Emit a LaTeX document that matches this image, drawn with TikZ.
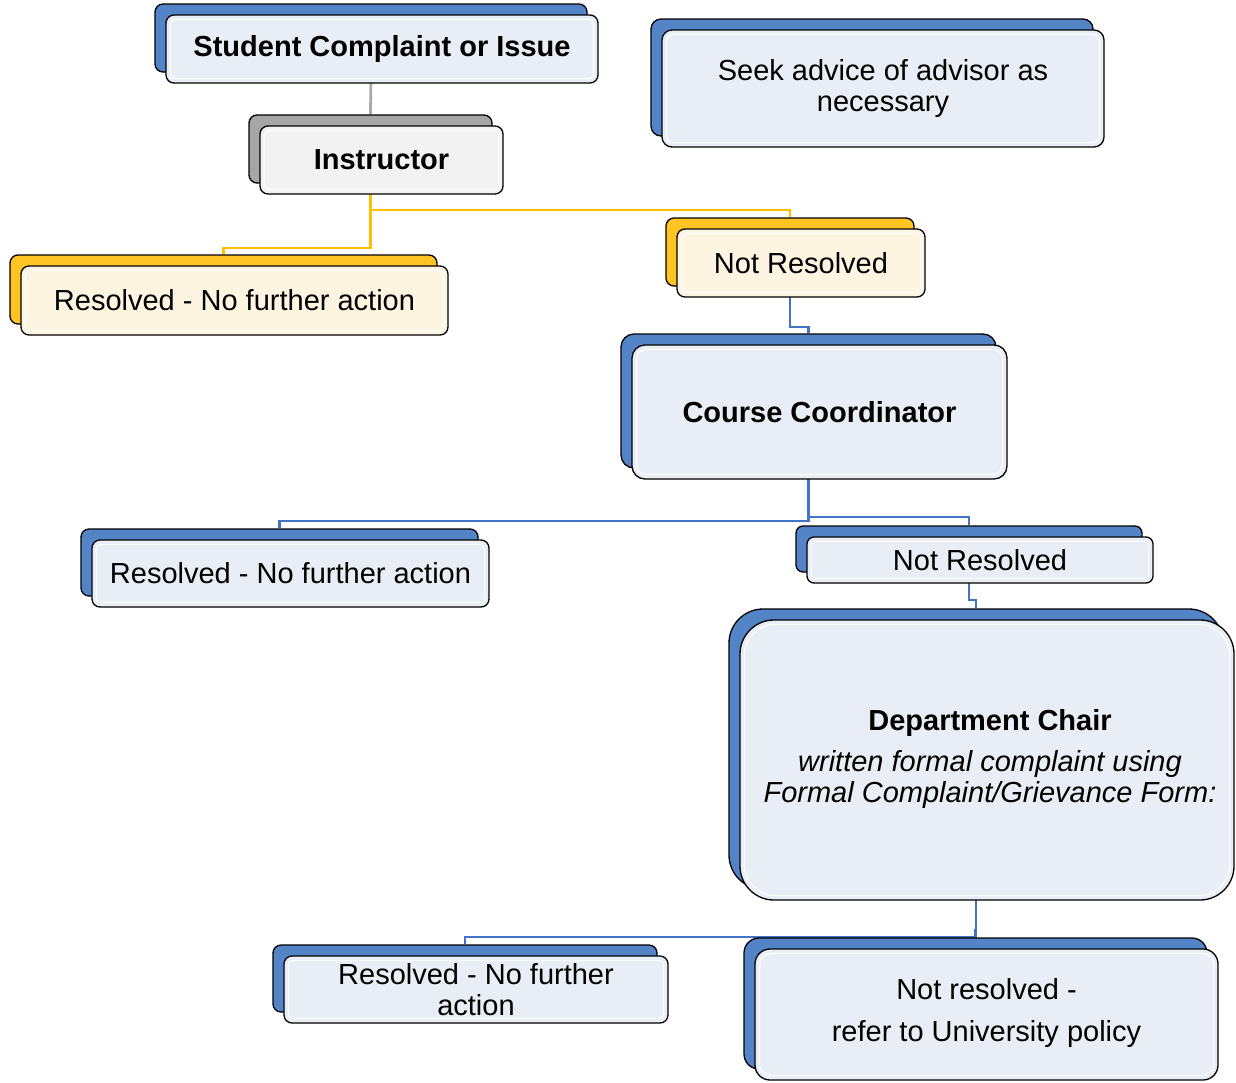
\documentclass[tikz,border=0pt]{standalone}
\usepackage{fontspec}
\setmainfont{Liberation Sans}
\usetikzlibrary{backgrounds}
\definecolor{bblue}{RGB}{84,132,200}
\definecolor{fblue}{RGB}{233,238,246}
\definecolor{byellow}{RGB}{255,196,36}
\definecolor{fyellow}{RGB}{253,245,226}
\definecolor{bgrey}{RGB}{166,166,166}
\definecolor{fgrey}{RGB}{242,242,242}
\definecolor{lblue}{RGB}{68,114,196}
\definecolor{lyellow}{RGB}{255,192,0}
\definecolor{lgrey}{RGB}{170,170,170}
\tikzset{
  box/.style={draw=black, line width=1.3pt, inner sep=0pt, align=center,
              font=\fontsize{29}{30.5}\selectfont},
  backblue/.style={box, fill=bblue},
  frontblue/.style={box, fill=fblue},
  backyellow/.style={box, fill=byellow},
  frontyellow/.style={box, fill=fyellow},
  backgrey/.style={box, fill=bgrey},
  frontgrey/.style={box, fill=fgrey},
  gloss/.style={draw=white, line width=1.5pt, opacity=0.75},
  conn/.style={line width=2.2pt},
}
% #1 name, #2 x, #3 y (centre of front box), #4 width, #5 height, #6 colour set, #7 radius, #8 text
\newcommand\twobox[8]{%
  \node[back#6, minimum width=#4pt, minimum height=#5pt, rounded corners=#7pt] (#1B) at (#2-11,#3-11) {};
  \node[front#6, minimum width=#4pt, minimum height=#5pt, rounded corners=#7pt] (#1) at (#2,#3) {#8};
  \draw[gloss, rounded corners=#7pt-3pt] ([shift={(5,5)}]#1.north west) rectangle ([shift={(-5,-5)}]#1.south east);
}
\begin{document}
\begin{tikzpicture}[x=1pt,y=-1pt]
\useasboundingbox (0,0) rectangle (1236,1082);

\twobox{stud}{382}{49}{432}{68}{blue}{8}{\raisebox{-2pt}{\bfseries Student Complaint or Issue}}
\twobox{seek}{883}{88.5}{442}{117}{blue}{10}{Seek advice of advisor as\\necessary}
\twobox{instr}{381.5}{160}{243}{68}{grey}{8}{\bfseries Instructor}
\twobox{resa}{234.5}{300.5}{427}{69}{yellow}{8}{Resolved - No further action}
\twobox{nra}{801}{263}{248}{68}{yellow}{8}{Not Resolved}
\twobox{cc}{819.5}{412}{375}{134}{blue}{13}{\bfseries Course Coordinator}
\twobox{resb}{290.5}{573.5}{397}{67}{blue}{8}{Resolved - No further action}
\twobox{nrb}{980}{560}{346}{46}{blue}{7}{Not Resolved}
\twobox{dc}{987}{760}{494}{280}{blue}{34}{\hspace*{6pt}\begin{tabular}{@{}c@{}}{\bfseries Department Chair}\\[11pt]\itshape written formal complaint using\\\itshape Formal Complaint/Grievance Form:\end{tabular}}
\twobox{resc}{476}{989.5}{384}{67}{blue}{8}{Resolved - No further\\action}
\twobox{nrc}{986.5}{1014.5}{463}{131}{blue}{15}{\raisebox{-3pt}{\begin{tabular}{@{}c@{}}Not resolved -\\[11pt]refer to University policy\end{tabular}}}

\begin{scope}[on background layer]
  \coordinate (ya) at (0,248);
  \coordinate (yb) at (0,210);
  \coordinate (yc) at (0,327);
  \coordinate (yd) at (0,521);
  \coordinate (ye) at (0,517);
  \coordinate (yf) at (0,600);
  \coordinate (yg) at (0,937);
  \coordinate (yh) at (0,930);
  \draw[conn, lgrey, line width=2.8pt] (studB.south) -- (instrB.north);
  \draw[conn, lyellow] (instrB.south) |- (resaB.north |- ya) -- (resaB.north);
  \draw[conn, lyellow] (instrB.south) |- (nraB.north |- yb) -- (nraB.north);
  \draw[conn, lblue] (nraB.south) |- (ccB.north |- yc) -- (ccB.north);
  \draw[conn, lblue] (ccB.south) |- (resbB.north |- yd) -- (resbB.north);
  \draw[conn, lblue] (ccB.south) |- (nrbB.north |- ye) -- (nrbB.north);
  \draw[conn, lblue] (nrbB.south) |- (dcB.north |- yf) -- (dcB.north);
  \draw[conn, lblue] (dcB.south) |- (rescB.north |- yg) -- (rescB.north);
  \draw[conn, lblue] (dcB.south) |- (nrcB.north |- yh) -- (nrcB.north);
\end{scope}
\end{tikzpicture}
\end{document}
